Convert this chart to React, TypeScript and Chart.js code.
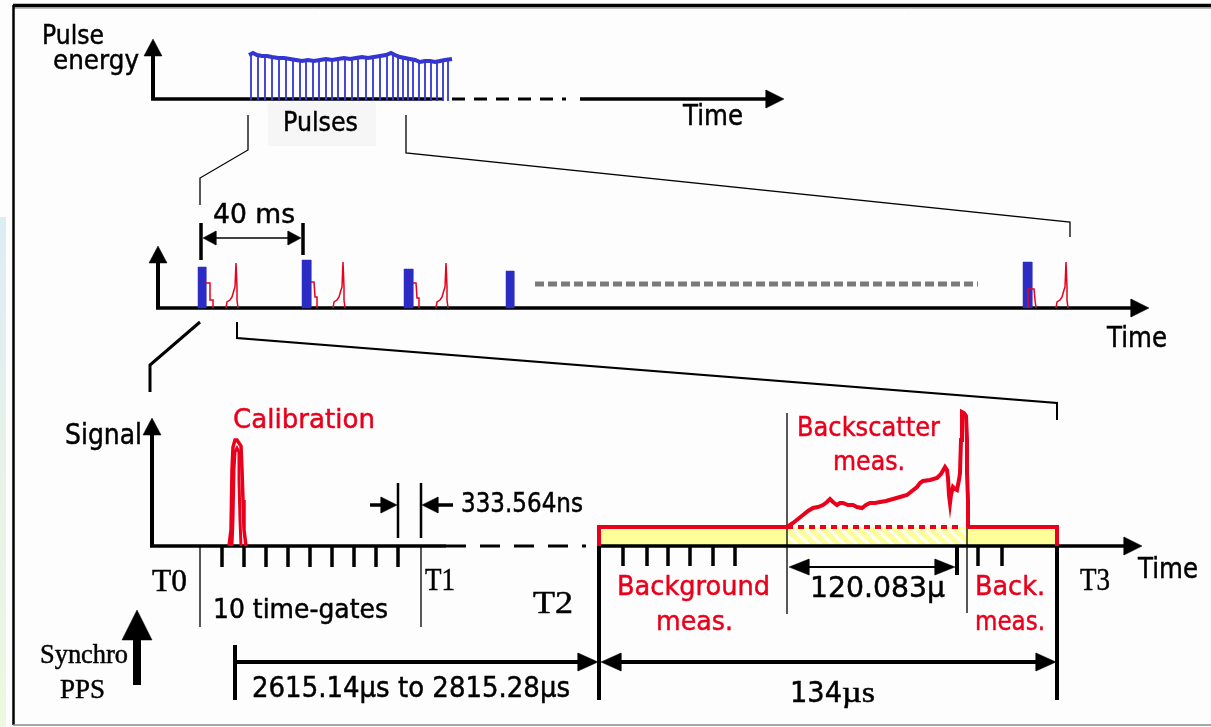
import { useEffect, useRef } from "react";
import { Chart, registerables } from "chart.js";

Chart.register(...registerables);

const W = 1211;
const H = 727;

// ---------------- colours ----------------
const INK = "#000000";
const RED = "#e8001c";
const BAR_BLUE = "#2c2cc4";
const PULSE_BLUE = "#3535d2";
const DOT_GREY = "#7a7a7a";
const FILL_YELLOW = "#ffff99";
const FRAME_GREY = "#8a8a8a";

type XY = [number, number];

// ---------------- top panel: pulse energy train ----------------
const pulseX = [251, 258, 265, 272, 279, 286, 293, 300, 306, 313, 319, 326, 332, 338, 345, 352, 358, 366, 373, 380, 387, 393, 398, 403, 408, 413, 419, 425, 431, 437, 443, 448];
const pulseTop = [54, 55, 56, 57, 58, 58, 59, 60, 60, 60, 60, 59, 59, 59, 58, 58, 58, 57, 57, 56, 55, 54, 55, 57, 59, 60, 61, 61, 61, 60, 60, 59];
const envelopeX = [249, 253, 257, 262, 267, 272, 278, 284, 290, 296, 302, 308, 314, 320, 326, 332, 338, 344, 350, 356, 362, 368, 374, 380, 386, 391, 395, 400, 405, 410, 415, 420, 425, 430, 435, 440, 445, 452];
const envelopeY = [55, 53, 55, 56, 56, 57, 58, 58, 59, 60, 61, 60, 61, 60, 59, 60, 59, 58, 59, 58, 57, 58, 57, 56, 55, 53, 55, 57, 58, 59, 60, 62, 61, 61, 62, 61, 60, 59];
const pulseBase = 99;

// ---------------- middle panel: 25 Hz shots ----------------
const barLeft = [198, 302, 404, 506, 1023];
const barRight = [206, 311, 413, 514, 1032];
const barTop = [267, 260, 269, 271, 262];
const midBase = 308;

const echoStep1: XY[] = [[206, 283], [210, 283], [210, 300], [213, 300], [213, 308]];
const echoStep2: XY[] = [[311, 282], [314, 282], [315, 297], [317, 297], [317, 308]];
const echoStep3: XY[] = [[413, 283], [416, 283], [417, 298], [419, 298], [419, 308]];
const echoStep5: XY[] = [[1028, 308], [1028, 289], [1034, 289], [1035, 300], [1036, 308]];
const echoSpike1: XY[] = [[226, 308], [227, 302], [230, 300], [232, 297], [234, 290], [235, 287], [236, 263], [237, 287], [237, 300], [238, 308]];
const echoSpike2: XY[] = [[333, 308], [334, 302], [337, 300], [339, 297], [341, 290], [342, 287], [343, 262], [344, 287], [344, 300], [345, 308]];
const echoSpike3: XY[] = [[436, 308], [437, 302], [440, 300], [442, 297], [444, 290], [445, 287], [446, 263], [447, 287], [447, 300], [448, 308]];
const echoSpike5: XY[] = [[1056, 308], [1057, 302], [1060, 300], [1062, 297], [1064, 290], [1065, 287], [1066, 262], [1067, 287], [1067, 300], [1068, 308]];

// ---------------- lower panel: one shot ----------------
const lowBase = 546;
const gateTicks = [222, 244, 266, 288, 310, 332, 354, 376, 398];
const bgTicks = [623, 647, 668, 690, 713, 735];
const backTicks = [978, 1002];

const calibOuter: XY[] = [[229, 546], [231, 530], [232, 470], [233, 447], [235, 440], [237, 440], [239, 443], [241, 446], [242, 470], [243, 500], [244, 530], [246, 546]];
const calibInner: XY[] = [[232, 546], [233, 520], [234, 470], [235, 452], [237, 448], [239, 452], [239, 480], [240, 520], [241, 546]];

const backscatter: XY[] = [[787, 527], [790, 525], [793, 523], [798, 519], [803, 515], [808, 511], [813, 508], [818, 507], [823, 505], [827, 502], [830, 499], [833, 502], [837, 505], [840, 503], [843, 503], [848, 505], [853, 505], [857, 507], [862, 508], [866, 505], [870, 503], [875, 503], [880, 502], [886, 501], [893, 499], [900, 497], [907, 495], [912, 491], [917, 487], [920, 483], [923, 481], [930, 480], [937, 478], [941, 474], [945, 467], [947, 470], [948, 478], [949, 495], [950, 503], [951, 495], [953, 487], [955, 489], [957, 490], [959, 480], [960, 473], [961, 440], [962, 412], [964, 413], [966, 416], [967, 440], [967, 473], [968, 500], [968, 527]];

// ---------------- arrow heads ----------------
const headTipX = [153, 784, 158, 1149, 152, 1142, 203, 301, 397, 422, 789, 955, 598, 601, 1056, 137];
const headTipY = [39, 99, 246, 308, 418, 546, 238, 238, 505, 505, 567, 567, 662, 662, 662, 610];
const headDir = ["up", "right", "up", "right", "up", "right", "left", "right", "right", "left", "left", "right", "right", "left", "right", "up"];
const headLen = [17, 18, 17, 18, 17, 18, 13, 13, 16, 16, 20, 20, 20, 20, 20, 30];
const headHalf = [9, 9, 9, 9, 9, 9, 7, 7, 8, 8, 8, 8, 9, 9, 9, 15];

// ---------------- labels ----------------
type Label = { text: string; x: number; y: number; w: number; size: number; color: string; serif?: boolean };
const labels: Label[] = [
  { text: "Pulse", x: 42, y: 44, w: 62, size: 27, color: INK },
  { text: "energy", x: 53, y: 69, w: 86, size: 27, color: INK },
  { text: "Time", x: 683, y: 125, w: 60, size: 28, color: INK },
  { text: "Pulses", x: 283, y: 131, w: 75, size: 27, color: INK },
  { text: "40 ms", x: 213, y: 223, w: 82, size: 27, color: INK },
  { text: "Time", x: 1107, y: 347, w: 60, size: 28, color: INK },
  { text: "Signal", x: 65, y: 444, w: 77, size: 28, color: INK },
  { text: "Calibration", x: 233, y: 428, w: 142, size: 27, color: RED },
  { text: "333.564ns", x: 461, y: 512, w: 122, size: 26, color: INK },
  { text: "Backscatter", x: 797, y: 436, w: 143, size: 27, color: RED },
  { text: "meas.", x: 833, y: 470, w: 72, size: 27, color: RED },
  { text: "T0", x: 152, y: 591, w: 35, size: 32, color: INK, serif: true },
  { text: "T1", x: 425, y: 590, w: 30, size: 32, color: INK, serif: true },
  { text: "T2", x: 533, y: 613, w: 40, size: 32, color: INK, serif: true },
  { text: "T3", x: 1080, y: 590, w: 30, size: 32, color: INK, serif: true },
  { text: "Time", x: 1138, y: 578, w: 60, size: 28, color: INK },
  { text: "10 time-gates", x: 213, y: 618, w: 175, size: 27, color: INK },
  { text: "Background", x: 617, y: 595, w: 153, size: 27, color: RED },
  { text: "meas.", x: 656, y: 630, w: 77, size: 27, color: RED },
  { text: "120.083\u00b5", x: 810, y: 597, w: 135, size: 29, color: INK },
  { text: "Back.", x: 975, y: 595, w: 70, size: 27, color: RED },
  { text: "meas.", x: 975, y: 630, w: 70, size: 27, color: RED },
  { text: "Synchro", x: 40, y: 663, w: 88, size: 28, color: INK, serif: true },
  { text: "PPS", x: 60, y: 698, w: 45, size: 28, color: INK, serif: true },
  { text: "2615.14\u00b5s to 2815.28\u00b5s", x: 252, y: 697, w: 318, size: 28, color: INK },
  { text: "134", x: 790, y: 702, w: 52, size: 29, color: INK },
  { text: "\u00b5s", x: 842, y: 702, w: 33, size: 30, color: INK, serif: true },
];

// ---------------- helpers ----------------
const pts = (a: XY[]) => a.map(([x, y]) => ({ x, y: y as number | null }));
const joinParts = (parts: XY[][]) => {
  const out: { x: number; y: number | null }[] = [];
  parts.forEach((p, i) => {
    if (i > 0) out.push({ x: p[0][0], y: null });
    out.push(...pts(p));
  });
  return out;
};
const verticals = (xs: number[], y1: number, y2: number) => joinParts(xs.map((x) => [[x, y1], [x, y2]] as XY[]));

function stroke(data: any[], color: string, width: number, dash: number[] = []) {
  return {
    type: "line",
    data,
    borderColor: color,
    borderWidth: width,
    borderDash: dash,
    borderCapStyle: "butt",
    borderJoinStyle: "miter",
    pointRadius: 0,
    pointHoverRadius: 0,
    fill: false,
    tension: 0,
    spanGaps: false,
  };
}
function shape(parts: XY[][], color: any, edge = 0.5) {
  return {
    type: "line",
    data: joinParts(parts.map((p) => [...p, p[0]])),
    borderColor: typeof color === "string" ? color : "rgba(0,0,0,0)",
    borderWidth: typeof color === "string" ? edge : 0,
    backgroundColor: color,
    fill: "shape",
    pointRadius: 0,
    pointHoverRadius: 0,
    tension: 0,
    spanGaps: false,
  };
}
function head(i: number): XY[] {
  const x = headTipX[i], y = headTipY[i], l = headLen[i], h = headHalf[i];
  switch (headDir[i]) {
    case "up": return [[x, y], [x - h, y + l], [x + h, y + l]];
    case "down": return [[x, y], [x - h, y - l], [x + h, y - l]];
    case "left": return [[x, y], [x + l, y - h], [x + l, y + h]];
    default: return [[x, y], [x - l, y - h], [x - l, y + h]];
  }
}

const textPlugin = {
  id: "diagramText",
  afterDatasetsDraw(chart: any) {
    const { ctx, scales } = chart;
    const sx = scales.x, sy = scales.y;
    labels.forEach((l) => {
      ctx.save();
      ctx.font = `${l.size}px ${l.serif ? '"Liberation Serif", serif' : '"DejaVu Sans", sans-serif'}`;
      ctx.fillStyle = l.color;
      ctx.strokeStyle = l.color;
      ctx.lineWidth = 0.5;
      ctx.textBaseline = "alphabetic";
      const px = sx.getPixelForValue(l.x);
      const py = sy.getPixelForValue(l.y);
      const target = sx.getPixelForValue(l.x + l.w) - px;
      const w0 = ctx.measureText(l.text).width || 1;
      ctx.translate(px, py);
      ctx.scale(target / w0, 1);
      ctx.fillText(l.text, 0, 0);
      ctx.strokeText(l.text, 0, 0);
      ctx.restore();
    });
  },
};

export default function App() {
  const ref = useRef<HTMLCanvasElement | null>(null);
  useEffect(() => {
    const canvas = ref.current;
    if (!canvas) return;
    const c2d = canvas.getContext("2d")!;

    // hatch pattern for the backscatter window
    const pc = document.createElement("canvas");
    pc.width = 12;
    pc.height = 12;
    const p = pc.getContext("2d")!;
    p.fillStyle = FILL_YELLOW;
    p.fillRect(0, 0, 12, 12);
    p.strokeStyle = "#ffffff";
    p.lineWidth = 3;
    p.beginPath();
    p.moveTo(-3, -3); p.lineTo(15, 15);
    p.moveTo(-15, -3); p.lineTo(3, 15);
    p.moveTo(9, -3); p.lineTo(27, 15);
    p.stroke();
    const hatch = c2d.createPattern(pc, "repeat");

    const edgeGrad = c2d.createLinearGradient(0, 217, 0, 727);
    edgeGrad.addColorStop(0, "#dcedf3");
    edgeGrad.addColorStop(1, "#eef8df");

    const datasets: any[] = [
      // page edge and frame
      shape([[[0, 217], [6, 217], [6, 727], [0, 727]]], edgeGrad),
      shape([[[268, 102], [376, 102], [376, 146], [268, 146]]], "#f6f6f6", 0),
      stroke(pts([[13, 5.5], [W, 5.5]]), INK, 3.5),
      stroke(pts([[13, 8], [W, 8]]), "#777777", 1),
      stroke(pts([[13.5, 5], [13.5, 725]]), INK, 2.5),
      stroke(pts([[13, 725], [W, 725]]), FRAME_GREY, 1.5),

      // top panel
      stroke(pts([[153, 100], [153, 52]]), INK, 4),
      stroke(pts([[151, pulseBase], [430, pulseBase]]), INK, 3.5),
      stroke(pts([[430, pulseBase], [566, pulseBase]]), INK, 3, [13, 9]),
      stroke(pts([[580, pulseBase], [768, pulseBase]]), INK, 3.5),
      stroke(joinParts(pulseX.map((x, i) => [[x, pulseBase + 2], [x, pulseTop[i]]] as XY[])), PULSE_BLUE, 1.8),
      stroke(pts(envelopeX.map((x, i) => [x, envelopeY[i]] as XY)), PULSE_BLUE, 4),

      // zoom connectors
      stroke(pts([[248, 115], [248, 150], [200, 178], [200, 205]]), INK, 1.3),
      stroke(pts([[406, 115], [406, 153], [1070, 222], [1070, 237]]), INK, 1.3),
      stroke(pts([[200, 322], [150, 365], [150, 392]]), INK, 3),
      stroke(pts([[237, 322], [237, 338], [1057, 403], [1057, 420]]), INK, 2),

      // middle panel
      stroke(pts([[158, midBase], [158, 262]]), INK, 4),
      stroke(pts([[156, midBase], [1132, midBase]]), INK, 3.5),
      shape(barLeft.map((x, i) => [[x, midBase], [x, barTop[i]], [barRight[i], barTop[i]], [barRight[i], midBase]] as XY[]), BAR_BLUE),
      stroke(joinParts([echoStep1, echoStep2, echoStep3, echoStep5]), RED, 1.5),
      stroke(joinParts([echoSpike1, echoSpike2, echoSpike3, echoSpike5]), RED, 1.5),
      stroke(pts([[535, 284], [978, 284]]), DOT_GREY, 5, [9, 4]),
      stroke(verticals([201], 223, 260), INK, 3.5),
      stroke(verticals([303], 223, 255), INK, 3.5),
      stroke(pts([[214, 238], [290, 238]]), INK, 1.5),

      // lower panel: window fill
      shape([[[599, 527], [1057, 527], [1057, 546], [599, 546]]], FILL_YELLOW, 0),
      shape([[[787, 529], [967, 529], [967, 545], [787, 545]]], hatch),
      stroke(pts([[152, lowBase], [152, 433]]), INK, 4),
      stroke(pts([[150, lowBase], [446, lowBase]]), INK, 3.5),
      stroke(pts([[446, lowBase], [586, lowBase]]), INK, 3, [20, 14]),
      stroke(pts([[597, lowBase], [1126, lowBase]]), INK, 3.5),
      stroke(verticals(gateTicks, lowBase, 567), INK, 3.5),
      stroke(verticals(bgTicks, lowBase, 566), INK, 3.5),
      stroke(verticals(backTicks, lowBase, 566), INK, 3.5),
      stroke(verticals([957], lowBase, 575), INK, 4),
      stroke(verticals([200, 421], lowBase, 627), INK, 1.3),
      stroke(verticals([787], 413, 614), INK, 1.3),
      stroke(verticals([967], 487, 613), INK, 1.3),
      stroke(verticals([398, 421], 483, 538), INK, 2.5),
      stroke(pts([[370, 505], [384, 505]]), INK, 3.5),
      stroke(pts([[436, 505], [453, 505]]), INK, 3.5),
      stroke(pts([[800, 567], [945, 567]]), INK, 2),
      stroke(verticals([599], lowBase, 700), INK, 4),
      stroke(verticals([1057], lowBase, 700), INK, 4),
      stroke(verticals([235], 645, 700), INK, 4),
      stroke(pts([[235, 662], [582, 662]]), INK, 4),
      stroke(pts([[618, 662], [1040, 662]]), INK, 4),
      stroke(pts([[137, 638], [137, 685]]), INK, 8),

      // red window outline and signals
      stroke(pts([[599, 546], [599, 527], [787, 527]]), RED, 4),
      stroke(pts([[968, 527], [1057, 527], [1057, 546]]), RED, 4),
      stroke(pts([[787, 527], [963, 527]]), RED, 4, [6, 5]),
      stroke(pts(backscatter), RED, 4),
      stroke(pts(calibOuter), RED, 3.5),
      stroke(pts(calibInner), RED, 3),

      // arrow heads
      shape(headTipX.map((_, i) => head(i)), INK),
    ];
    const n = datasets.length;
    datasets.forEach((d, i) => (d.order = n - i));

    const chart = new Chart(canvas, {
      type: "line",
      data: { datasets },
      options: {
        responsive: false,
        animation: false,
        devicePixelRatio: 1,
        events: [],
        layout: { padding: 0 },
        plugins: { legend: { display: false }, tooltip: { enabled: false }, title: { display: false } },
        scales: {
          x: { type: "linear", min: 0, max: W, display: false },
          y: { type: "linear", min: 0, max: H, reverse: true, display: false },
        },
      },
      plugins: [textPlugin],
    } as any);
    return () => chart.destroy();
  }, []);

  return (
    <div style={{ position: "absolute", left: 0, top: 0, width: W, height: H, background: "#fdfdfd" }}>
      <canvas ref={ref} width={W} height={H} style={{ display: "block", width: W, height: H }} />
    </div>
  );
}
